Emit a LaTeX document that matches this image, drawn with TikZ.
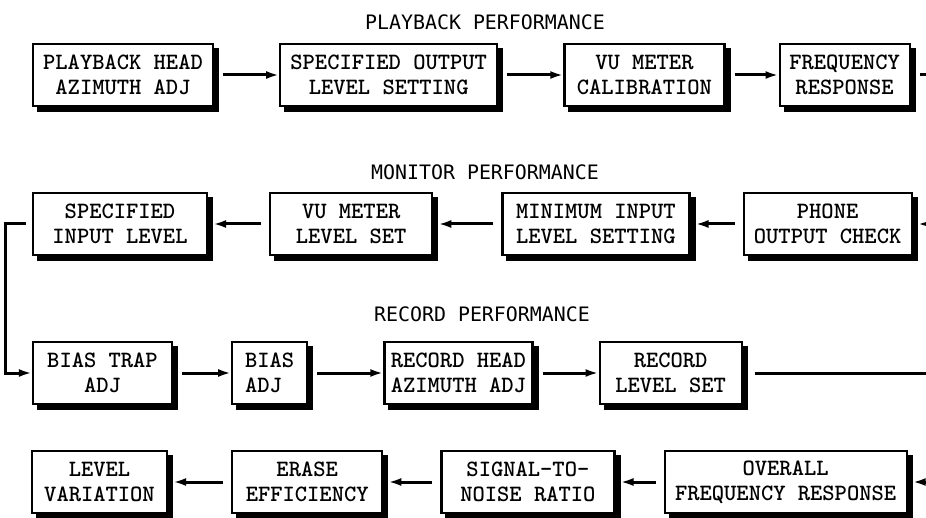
\documentclass[tikz,border=0pt]{standalone}
\usepackage{fontspec}
\newfontfamily\headfont{DejaVu Sans Mono}
\usetikzlibrary{arrows.meta, positioning}
\tikzset{
  stepbox/.style={
    rectangle, draw=black, line width=1.1pt, fill=white,
    minimum height=31pt, inner sep=2pt, align=center,
    font=\ttfamily\bfseries\fontsize{11.7}{12.5}\selectfont,
    preaction={fill=black, draw=black, transform canvas={xshift=2.5pt, yshift=-2.5pt}}
  },
  heading/.style={font=\headfont\fontsize{9.95}{12}\selectfont},
  arrow/.style={-{Latex[length=6.5pt,width=4pt]}, line width=1.5pt},
  link/.style={line width=1.5pt}
}

\begin{document}
\begin{tikzpicture}[x=0.5pt, y=-0.5pt]
  \useasboundingbox (0,0) rectangle (926,518);

  % playback
  \node[heading] (pbtitle) at (485,22) {PLAYBACK PERFORMANCE};
  \node[stepbox, minimum width=90pt] (pbhead) at (123,75) {PLAYBACK HEAD\\AZIMUTH ADJ};
  \node[stepbox, minimum width=108.5pt, right=32.5pt of pbhead] (outlvl) {SPECIFIED OUTPUT\\LEVEL SETTING};
  \node[stepbox, minimum width=80pt, right=32.5pt of outlvl] (vucal) {VU METER\\CALIBRATION};
  \node[stepbox, minimum width=65pt, right=26.5pt of vucal] (freqresp) {FREQUENCY\\RESPONSE};
  \coordinate (rout1) at (926,75);

  \draw[arrow] ([xshift=4.5pt]pbhead.east) -- (outlvl.west);
  \draw[arrow] ([xshift=4.5pt]outlvl.east) -- (vucal.west);
  \draw[arrow] ([xshift=4.5pt]vucal.east) -- (freqresp.west);
  \draw[link] ([xshift=4.5pt]freqresp.east) -- (rout1);

  % monitor
  \node[heading] (montitle) at (485,172) {MONITOR PERFORMANCE};
  \node[stepbox, minimum width=87pt] (inlvl) at (120,224) {SPECIFIED\\INPUT LEVEL};
  \node[stepbox, minimum width=81pt, right=30.5pt of inlvl] (vuset) {VU METER\\LEVEL SET};
  \node[stepbox, minimum width=93.5pt, right=34pt of vuset] (mininput) {MINIMUM INPUT\\LEVEL SETTING};
  \node[stepbox, minimum width=84pt, right=26pt of mininput] (phone) {PHONE\\OUTPUT CHECK};
  \coordinate (rin2) at (926,224);

  \draw[arrow] (rin2) -- ([xshift=2.5pt]phone.east);
  \draw[arrow] ([xshift=-4pt]phone.west) -- ([xshift=2.5pt]mininput.east);
  \draw[arrow] ([xshift=-4pt]mininput.west) -- ([xshift=2.5pt]vuset.east);
  \draw[arrow] ([xshift=-4pt]vuset.west) -- ([xshift=2.5pt]inlvl.east);

  % record
  \node[heading] (rectitle) at (482,314) {RECORD PERFORMANCE};
  \node[stepbox, minimum width=69.5pt] (biastrap) at (102.5,373) {BIAS TRAP\\ADJ};
  \node[stepbox, minimum width=37.5pt, align=left, right=29pt of biastrap] (biasadj) {BIAS\\ADJ};
  \node[stepbox, minimum width=74pt, right=37.5pt of biasadj] (rechead) {RECORD HEAD\\AZIMUTH ADJ};
  \node[stepbox, minimum width=71pt, right=32.5pt of rechead] (reclvl) {RECORD\\LEVEL SET};
  \coordinate (rout3) at (926,373);

  \draw[arrow] ([xshift=-3pt]inlvl.west) -- ++(-10pt,0) |- (biastrap.west);
  \draw[arrow] ([xshift=4.5pt]biastrap.east) -- (biasadj.west);
  \draw[arrow] ([xshift=4.5pt]biasadj.east) -- (rechead.west);
  \draw[arrow] ([xshift=4.5pt]rechead.east) -- (reclvl.west);
  \draw[link] ([xshift=6pt]reclvl.east) -- (rout3);

  % overall checks
  \node[stepbox, minimum width=67.5pt] (lvlvar) at (99.5,482) {LEVEL\\VARIATION};
  \node[stepbox, minimum width=75pt, right=31.5pt of lvlvar] (erase) {ERASE\\EFFICIENCY};
  \node[stepbox, minimum width=86.5pt, right=28.5pt of erase] (snr) {SIGNAL-TO-\\NOISE RATIO};
  \node[stepbox, minimum width=121pt, right=24pt of snr] (overall) {OVERALL\\FREQUENCY RESPONSE};
  \coordinate (rin4) at (926,482);

  \draw[arrow] (rin4) -- ([xshift=2.5pt]overall.east);
  \draw[arrow] ([xshift=-4pt]overall.west) -- ([xshift=2.5pt]snr.east);
  \draw[arrow] ([xshift=-4pt]snr.west) -- ([xshift=2.5pt]erase.east);
  \draw[arrow] ([xshift=-4pt]erase.west) -- ([xshift=2.5pt]lvlvar.east);
\end{tikzpicture}
\end{document}
